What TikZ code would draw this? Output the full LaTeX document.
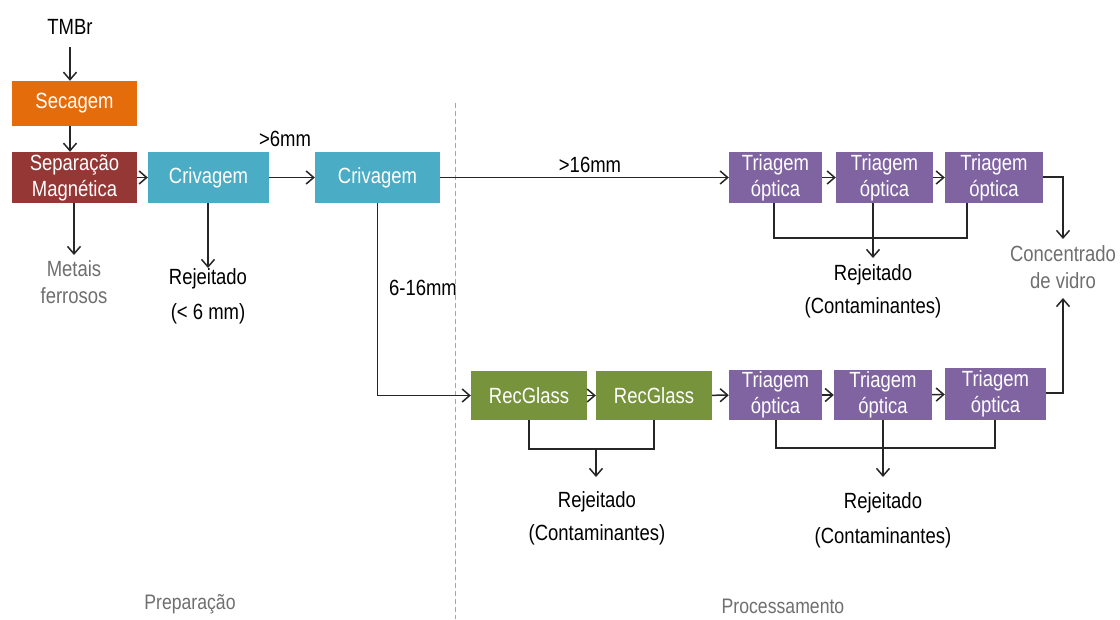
\documentclass[tikz,border=0pt]{standalone}
\usepackage{fontspec}
\setmainfont[FakeStretch=0.84]{Liberation Sans}
\usetikzlibrary{arrows.meta}
\definecolor{cOrange}{HTML}{E46C0A}
\definecolor{cRed}{HTML}{953735}
\definecolor{cBlue}{HTML}{4BACC6}
\definecolor{cGreen}{HTML}{77933C}
\definecolor{cPurple}{HTML}{8064A2}
\definecolor{cGray}{HTML}{6F6F6F}
\definecolor{cLine}{HTML}{262626}
\tikzset{
  box/.style={draw=none, text=white, inner sep=0pt, align=center,
    font=\fontsize{22}{26}\selectfont},
  lbl/.style={inner sep=0pt, align=center, font=\fontsize{22}{27}\selectfont},
  arr/.style={draw=cLine, line width=1.5pt, -{Straight Barb[length=7.5pt,width=13pt]}},
  ln/.style={draw=cLine, line width=1.5pt},
}
\begin{document}
\begin{tikzpicture}[x=1pt,y=-1pt]
\fill[white] (0,0) rectangle (1120,619);
\useasboundingbox (0,0) rectangle (1120,619);

% boxes
\node[box, fill=cOrange, minimum width=125pt, minimum height=45pt] (sec) at (74.5,103.5) {Secagem};
\node[box, fill=cRed, minimum width=125pt, minimum height=51pt] (sep) at (74.5,177.5) {Separação\\Magnética};
\node[box, fill=cBlue, minimum width=121pt, minimum height=51pt] (cr1) at (208.5,177.5) {Crivagem};
\node[box, fill=cBlue, minimum width=125pt, minimum height=51pt] (cr2) at (377.5,177.5) {Crivagem};
\node[box, fill=cPurple, minimum width=93pt, minimum height=51pt] (t1) at (775.5,177.5) {Triagem\\óptica};
\node[box, fill=cPurple, minimum width=97pt, minimum height=51pt] (t2) at (884.5,177.5) {Triagem\\óptica};
\node[box, fill=cPurple, minimum width=98pt, minimum height=51pt] (t3) at (994,177.5) {Triagem\\óptica};
\node[box, fill=cGreen, minimum width=116pt, minimum height=49pt] (rg1) at (529,395.5) {RecGlass};
\node[box, fill=cGreen, minimum width=116pt, minimum height=49pt] (rg2) at (654,395.5) {RecGlass};
\node[box, fill=cPurple, minimum width=93pt, minimum height=50pt] (t4) at (775.5,395) {Triagem\\óptica};
\node[box, fill=cPurple, minimum width=98pt, minimum height=50pt] (t5) at (883,395) {Triagem\\óptica};
\node[box, fill=cPurple, minimum width=101pt, minimum height=52pt] (t6) at (995.5,394) {Triagem\\óptica};

% labels
\node[lbl] (tmbr) at (70,27) {TMBr};
\node[lbl, text=cGray] (met) at (74,282) {Metais\\ferrosos};
\node[lbl, font=\fontsize{22}{35}\selectfont] (rej1) at (208,296) {Rejeitado\\(< 6 mm)};
\node[lbl] (g6) at (285,139) {>6mm};
\node[lbl] (g16) at (590,165) {>16mm};
\node[lbl] (r616) at (423,288) {6-16mm};
\node[lbl, font=\fontsize{22}{33}\selectfont] (rej2) at (873,291) {Rejeitado\\(Contaminantes)};
\node[lbl, text=cGray] (conc) at (1063,267) {Concentrado\\de vidro};
\node[lbl, font=\fontsize{22}{33}\selectfont] (rej3) at (597,518) {Rejeitado\\(Contaminantes)};
\node[lbl, font=\fontsize{22}{35}\selectfont] (rej4) at (883,520) {Rejeitado\\(Contaminantes)};
\node[lbl, text=cGray, font=\fontsize{21}{24}\selectfont] (prep) at (190,604) {Preparação};
\node[lbl, text=cGray, font=\fontsize{21}{24}\selectfont] (proc) at (783,606) {Processamento};

% divider
\coordinate (dvTop) at (455,103);
\coordinate (dvBot) at (455,619);
\draw[color=gray!70, line width=0.9pt, dash pattern=on 5pt off 3pt] (dvTop) -- (dvBot);

% connectors
\coordinate (tmbrB) at (70,47);
\draw[arr] (tmbrB) -- (sec.north -| tmbrB);
\draw[arr] (sec.south -| tmbrB) -- (sep.north -| tmbrB);
\draw[arr] (sep) -- (cr1);
\draw[arr] (cr1) -- (cr2);
\draw[arr] (cr2) -- (t1);
\draw[arr] (t1) -- (t2);
\draw[arr] (t2) -- (t3);
\coordinate (metT) at (74,255);
\draw[arr] (sep.south -| metT) -- (metT);
\coordinate (rej1T) at (208,268);
\draw[arr] (cr1.south -| rej1T) -- (rej1T);
\draw[arr] (cr2.south) |- (rg1.west);
\draw[arr] (rg1) -- (rg2);
\draw[arr] (rg2) -- (t4);
\draw[arr] (t4) -- (t5);
\draw[arr] (t5) -- (t6);

% top rejection collector
\coordinate (c1) at (774,238);
\coordinate (c3) at (967,238);
\draw[ln] (t1.south -| c1) -- (c1) -- (c3) -- (t3.south -| c3);
\coordinate (rej2T) at (873,258);
\draw[arr] (t2.south -| rej2T) -- (rej2T);

% concentrate
\coordinate (concX) at (1063,177);
\coordinate (concT) at (1063,239);
\coordinate (concB) at (1063,298);
\coordinate (concX2) at (1063,393);
\draw[arr] (t3.east |- concX) -- (concX) -- (concT);
\draw[arr] (t6.east |- concX2) -- (concX2) -- (concB);

% recglass rejection
\coordinate (g1) at (529,449);
\coordinate (g2) at (654,449);
\draw[ln] (rg1.south -| g1) -- (g1) -- (g2) -- (rg2.south -| g2);
\coordinate (gm) at (596,449);
\coordinate (rej3T) at (596,477);
\draw[arr] (gm) -- (rej3T);

% bottom triagem rejection
\coordinate (h1) at (776,448);
\coordinate (h3) at (995,448);
\draw[ln] (t4.south -| h1) -- (h1) -- (h3) -- (t6.south -| h3);
\coordinate (rej4T) at (883,477);
\draw[arr] (t5.south -| rej4T) -- (rej4T);
\end{tikzpicture}
\end{document}
